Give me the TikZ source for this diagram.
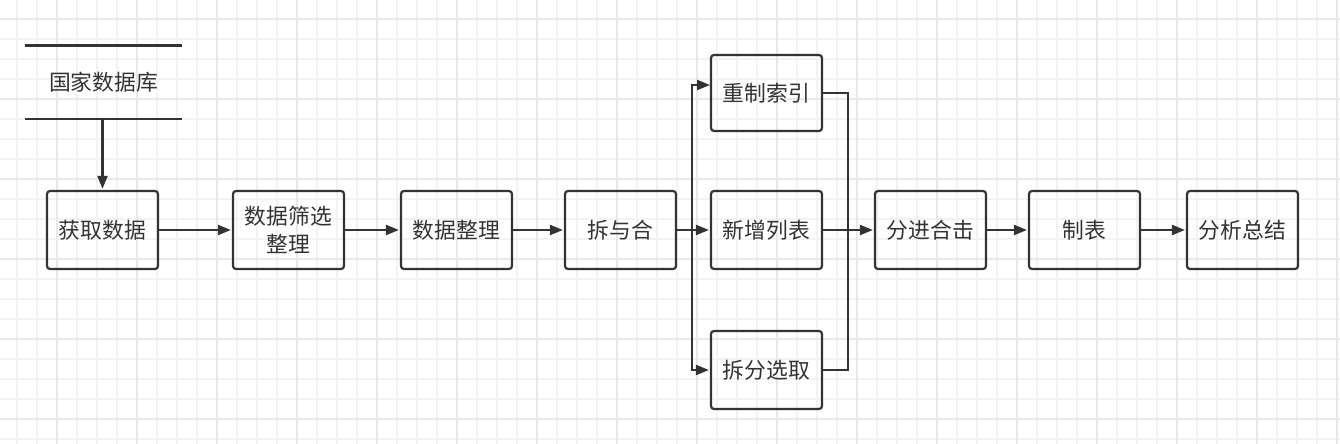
\documentclass[tikz,border=0pt]{standalone}
\usepackage{fontspec}
\setmainfont{Noto Sans CJK SC}
\usetikzlibrary{arrows.meta}
\definecolor{minorgrid}{HTML}{F3F3F3}
\definecolor{majorgrid}{HTML}{E8E8E8}
\definecolor{ink}{HTML}{333333}
\begin{document}
\begin{tikzpicture}[x=0.5pt,y=-0.5pt,
  box/.style={draw=ink,line width=1.1pt,rounded corners=1.5pt,minimum width=55.5pt,minimum height=39pt,inner sep=0pt,align=center,font=\fontsize{10.9}{14}\selectfont,text=ink},
  dbnode/.style={minimum width=78.5pt,minimum height=36.5pt,inner sep=0pt,font=\fontsize{10.9}{14}\selectfont,text=ink},
  arr/.style={draw=ink,line width=1.1pt,-{Triangle[length=6.5pt,width=5pt]},shorten >=0.5pt},
  ln/.style={draw=ink,line width=1.1pt},
  minorline/.style={draw=minorgrid,line width=0.75pt},
  majorline/.style={draw=majorgrid,line width=1pt}]
\useasboundingbox (0,0) rectangle (1340,444);
\fill[white] (0,0) rectangle (1340,444);
% grid
\foreach \x in {17,37,...,1337} \draw[minorline] (\x,0) -- (\x,444);
\foreach \y in {19,39,...,439} \draw[minorline] (0,\y) -- (1340,\y);
\foreach \x in {57,137,...,1337} \draw[majorline] (\x,0) -- (\x,444);
\foreach \y in {19,99,...,419} \draw[majorline] (0,\y) -- (1340,\y);
% database
\node[dbnode] (db) at (103.5,82.5) {国家数据库};
\draw[ln] (db.north west) -- (db.north east);
\draw[ln] (db.south west) -- (db.south east);
% boxes
\node[box] (get) at (102.5,230) {获取数据};
\node[box] (filter) at (288.5,230) {数据筛选\\整理};
\node[box] (tidy) at (456.5,230) {数据整理};
\node[box] (chai) at (620.5,230) {拆与合};
\node[box,minimum height=38pt] (idx) at (766.5,93) {重制索引};
\node[box] (new) at (766.5,230) {新增列表};
\node[box] (pick) at (766.5,370) {拆分选取};
\node[box] (fen) at (930.5,230) {分进合击};
\node[box] (tab) at (1084.5,230) {制表};
\node[box] (sum) at (1242.5,230) {分析总结};
% connectors
\draw[arr] (db.south -| get.north) -- (get.north);
\draw[arr] (get.east) -- (filter.west);
\draw[arr] (filter.east) -- (tidy.west);
\draw[arr] (tidy.east) -- (chai.west);
\coordinate (sp) at (692,230);
\coordinate (idxin) at (711,85);
\coordinate (mg) at (848,230);
\draw[ln] (chai.east) -- (sp);
\draw[arr] (sp) |- (idxin);
\draw[arr] (sp) |- (pick.west);
\draw[arr] (sp) -- (new.west);
\draw[ln] (idx.east) -| (mg);
\draw[ln] (pick.east) -| (mg);
\draw[arr] (new.east) -- (fen.west);
\draw[arr] (fen.east) -- (tab.west);
\draw[arr] (tab.east) -- (sum.west);
\end{tikzpicture}
\end{document}
